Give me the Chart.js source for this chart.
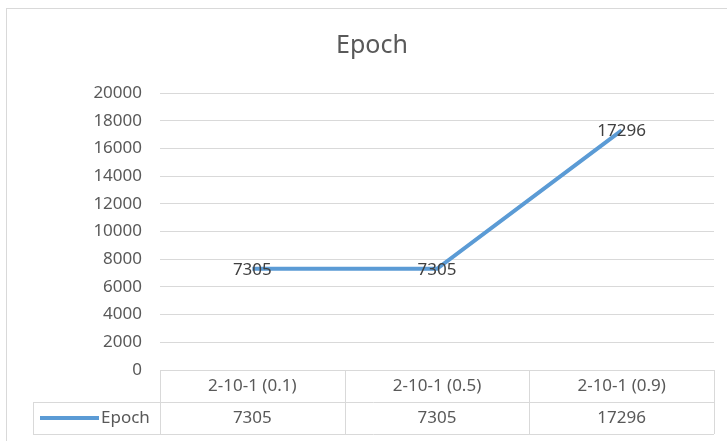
<!DOCTYPE html>
<html>
<head>
<meta charset="utf-8">
<script src="https://cdn.jsdelivr.net/npm/chart.js@4/dist/chart.umd.min.js"></script>
<style>
  html, body { margin: 0; padding: 0; background: #fff; }
  #wrap { width: 727px; height: 441px; }
</style>
</head>
<body>
<div id="wrap"><canvas id="epochChart" width="727" height="441"></canvas></div>
<script>
const categories = ["2-10-1 (0.1)", "2-10-1 (0.5)", "2-10-1 (0.9)"];
const seriesName = "Epoch";
const epochValues = [7305, 7305, 17296];
const yTicks = [0, 2000, 4000, 6000, 8000, 10000, 12000, 14000, 16000, 18000, 20000];

const FONT = "'Noto Sans', 'Open Sans', sans-serif";
const LINE_COLOR = "#5B9BD5";
const GRID_COLOR = "#d9d9d9";
const TEXT_COLOR = "#595959";

// frame, title, point labels and the data table under the plot
const excelBits = {
  id: "excelBits",
  afterDraw(chart) {
    const ctx = chart.ctx;
    const area = chart.chartArea;
    const x = chart.scales.x;
    const meta = chart.getDatasetMeta(0);

    ctx.save();
    // outer frame
    ctx.strokeStyle = GRID_COLOR;
    ctx.lineWidth = 1;
    ctx.strokeRect(6.5, 8.5, 760, 480);

    // title
    ctx.fillStyle = TEXT_COLOR;
    ctx.font = "25px " + FONT;
    ctx.textAlign = "center";
    ctx.textBaseline = "middle";
    ctx.fillText(seriesName, 372, 46);

    // point labels
    ctx.fillStyle = "#404040";
    ctx.font = "17px " + FONT;
    meta.data.forEach((pt, i) => {
      ctx.fillText(String(epochValues[i]), pt.x, pt.y + 1);
    });

    // data table
    const top = area.bottom;
    const rowH = 32;
    const tableLeft = 33;
    const edges = [area.left];
    categories.forEach((c, i) => {
      const w = x.getPixelForValue(1) - x.getPixelForValue(0);
      edges.push(x.getPixelForValue(i) + w / 2);
    });
    ctx.strokeStyle = GRID_COLOR;
    ctx.lineWidth = 1;
    ctx.beginPath();
    ctx.moveTo(area.left, top + 0.5); ctx.lineTo(area.right, top + 0.5);
    ctx.moveTo(tableLeft, top + rowH + 0.5); ctx.lineTo(area.right, top + rowH + 0.5);
    ctx.moveTo(tableLeft, top + 2 * rowH + 0.5); ctx.lineTo(area.right, top + 2 * rowH + 0.5);
    edges.forEach(e => {
      const ex = Math.round(e) + 0.5;
      ctx.moveTo(ex, top); ctx.lineTo(ex, top + 2 * rowH);
    });
    ctx.moveTo(tableLeft + 0.5, top + rowH); ctx.lineTo(tableLeft + 0.5, top + 2 * rowH);
    ctx.stroke();

    ctx.fillStyle = TEXT_COLOR;
    ctx.font = "17px " + FONT;
    ctx.textAlign = "center";
    categories.forEach((c, i) => {
      const cx = x.getPixelForValue(i);
      ctx.fillText(c, cx, top + rowH / 2);
      ctx.fillText(String(epochValues[i]), cx, top + rowH * 1.5);
    });

    // legend key + series name
    ctx.strokeStyle = LINE_COLOR;
    ctx.lineWidth = 4;
    ctx.beginPath();
    ctx.moveTo(40, top + rowH * 1.5); ctx.lineTo(99, top + rowH * 1.5);
    ctx.stroke();
    ctx.textAlign = "left";
    ctx.fillText(seriesName, 101, top + rowH * 1.5);
    ctx.restore();
  }
};

new Chart(document.getElementById("epochChart").getContext("2d"), {
  type: "line",
  data: {
    labels: categories,
    datasets: [{
      label: seriesName,
      data: epochValues,
      borderColor: LINE_COLOR,
      borderWidth: 4,
      pointRadius: 0,
      tension: 0,
      fill: false
    }]
  },
  options: {
    responsive: false,
    animation: false,
    layout: { padding: { top: 93, right: 13, bottom: 71, left: 0 } },
    plugins: {
      legend: { display: false },
      title: { display: false },
      tooltip: { enabled: false }
    },
    scales: {
      x: {
        type: "category",
        offset: true,
        display: false
      },
      y: {
        min: 0,
        max: 20000,
        afterBuildTicks: scale => { scale.ticks = yTicks.map(v => ({ value: v })); },
        afterFit: scale => { scale.width = 160; },
        border: { display: false },
        grid: { color: GRID_COLOR, drawTicks: false, lineWidth: 1 },
        ticks: {
          padding: 18,
          color: TEXT_COLOR,
          font: { family: FONT, size: 17 },
          callback: v => String(v)
        }
      }
    }
  },
  plugins: [excelBits]
});
</script>
</body>
</html>
